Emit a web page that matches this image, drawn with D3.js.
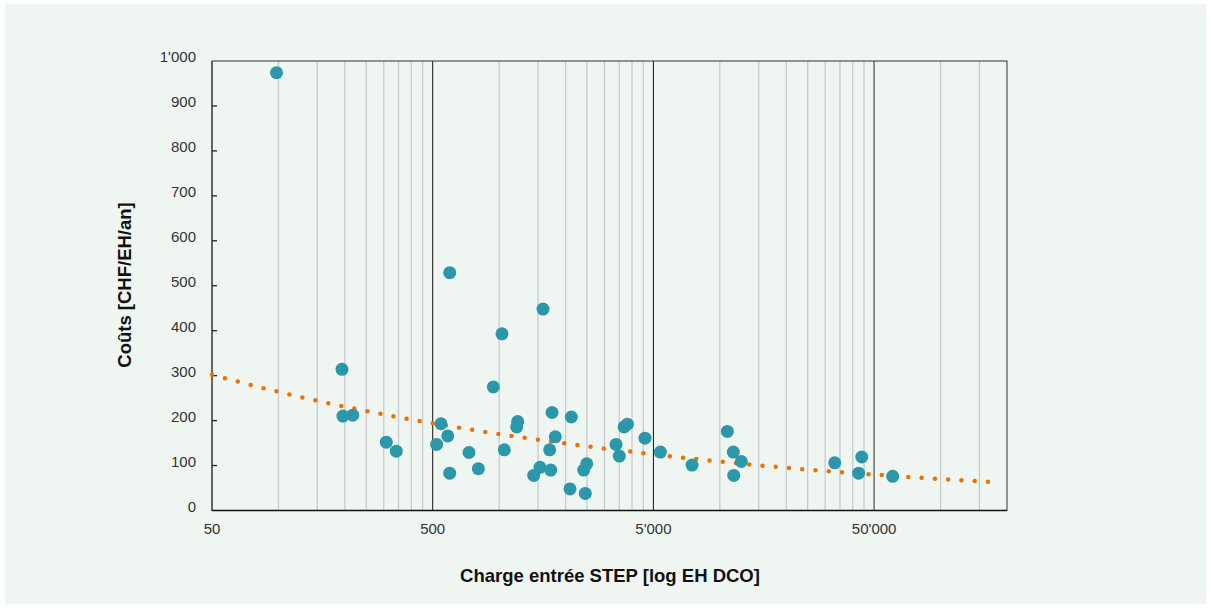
<!DOCTYPE html>
<html>
<head>
<meta charset="utf-8">
<script src="https://cdn.jsdelivr.net/npm/d3@7"></script>
<style>
  body { margin: 0; background: #fff; }
  svg { display: block; font-family: "Liberation Sans", Arial, sans-serif; }
</style>
</head>
<body>
<svg width="1211" height="608"></svg>
<script>
// charge (EH DCO) and cost (CHF/EH/an) per plant
var charge = [98, 194, 196, 217, 308, 342, 521, 545, 585, 597, 597, 730, 805, 941, 1030,
  1055, 1201, 1213, 1434, 1531, 1580, 1694, 1713, 1736, 1797, 2094, 2124, 2416, 2456, 2494,
  3385, 3503, 3681, 3811, 4580, 5376, 7481, 10815, 11509, 12511, 11560, 33150, 43950, 42550, 60700];
var couts = [974, 314, 210, 212, 152, 132, 147, 193, 166, 529, 83, 129, 93, 275, 393,
  135, 186, 198, 78, 96, 448, 135, 90, 218, 164, 48, 208, 90, 38, 104,
  147, 121, 186, 192, 161, 130, 101, 176, 130, 109, 78, 106, 119, 83, 76];

// trend line
var trendX = [50, 100, 200, 500, 1000, 2000, 5000, 10000, 20000, 50000, 100000, 175000];
var trendY = [302, 264, 231, 194, 170, 149, 125, 109, 95, 80, 70, 63];

var xTicks = [50, 500, 5000, 50000];
var yTicks = [0, 100, 200, 300, 400, 500, 600, 700, 800, 900, 1000];
var minorSteps = [2, 3, 4, 5, 6, 7, 8, 9];

var svg = d3.select("svg"),
    pLeft = 212, pRight = 1007, pTop = 61, pBottom = 510.5;

var fmt = function(v) { return d3.format(",")(v).replace(/,/g, "'"); };

var x = d3.scaleLog().domain([50, 200000]).range([pLeft, pRight]);
var y = d3.scaleLinear().domain([0, 1000]).range([pBottom, pTop]);

svg.append("rect")
    .attr("x", 5).attr("y", 4)
    .attr("width", 1201).attr("height", 600)
    .attr("fill", "#eff6f1");

// minor grid
var minor = [];
xTicks.forEach(function(d) {
  minorSteps.forEach(function(k) { if (d * k < 200000) minor.push(d * k); });
});

svg.append("g")
  .selectAll("line")
  .data(minor)
  .enter().append("line")
    .attr("x1", x).attr("x2", x)
    .attr("y1", pTop).attr("y2", pBottom)
    .attr("stroke", "#c4ccd3")
    .attr("stroke-width", 1.3);

// decade lines
svg.append("g")
  .selectAll("line")
  .data(xTicks.slice(1))
  .enter().append("line")
    .attr("x1", x).attr("x2", x)
    .attr("y1", pTop).attr("y2", pBottom)
    .attr("stroke", function(d) { return d == 50000 ? "#777" : "#111"; })
    .attr("stroke-width", function(d) { return d == 50000 ? 1.6 : 1; });

// frame
svg.append("rect")
    .attr("x", pLeft).attr("y", pTop)
    .attr("width", pRight - pLeft).attr("height", pBottom - pTop)
    .attr("fill", "none")
    .attr("stroke", "#333")
    .attr("stroke-width", 1);

svg.append("line")
    .attr("x1", pLeft).attr("x2", pLeft)
    .attr("y1", pTop).attr("y2", pBottom)
    .attr("stroke", "#555").attr("stroke-width", 1.5);

svg.append("line")
    .attr("x1", pLeft).attr("x2", pRight)
    .attr("y1", pBottom).attr("y2", pBottom)
    .attr("stroke", "#111").attr("stroke-width", 1.5);

// y ticks
var yAxis = svg.append("g");
yAxis.selectAll("line")
  .data(yTicks.filter(function(d) { return d > 0 && d < 1000; }))
  .enter().append("line")
    .attr("x1", pLeft).attr("x2", pLeft + 5)
    .attr("y1", y).attr("y2", y)
    .attr("stroke", "#222").attr("stroke-width", 1.3);

yAxis.selectAll("text")
  .data(yTicks)
  .enter().append("text")
    .attr("x", 196)
    .attr("y", function(d) { return y(d) - 4; })
    .attr("dy", "0.35em")
    .attr("text-anchor", "end")
    .attr("font-size", 15)
    .attr("fill", "#333")
    .text(fmt);

// x labels
svg.append("g")
  .selectAll("text")
  .data(xTicks)
  .enter().append("text")
    .attr("x", x)
    .attr("y", 534)
    .attr("text-anchor", "middle")
    .attr("font-size", 15)
    .attr("fill", "#333")
    .text(fmt);

// trend
svg.append("path")
    .datum(d3.zip(trendX, trendY))
    .attr("fill", "none")
    .attr("stroke", "#ee7100")
    .attr("stroke-width", 4.5)
    .attr("stroke-linecap", "round")
    .attr("stroke-dasharray", "0 13.3")
    .attr("d", d3.line()
      .x(function(d) { return x(d[0]); })
      .y(function(d) { return y(d[1]); })
      .curve(d3.curveMonotoneX));

// points
svg.append("g")
  .selectAll("circle")
  .data(d3.zip(charge, couts))
  .enter().append("circle")
    .attr("cx", function(d) { return x(d[0]); })
    .attr("cy", function(d) { return y(d[1]); })
    .attr("r", 6.5)
    .attr("fill", "#2a97ab");

// titles
svg.append("text")
    .attr("x", 610).attr("y", 582)
    .attr("text-anchor", "middle")
    .attr("font-size", 18.5)
    .attr("font-weight", "bold")
    .attr("fill", "#111")
    .text("Charge entrée STEP [log EH DCO]");

svg.append("text")
    .attr("transform", "translate(131,285)rotate(-90)")
    .attr("text-anchor", "middle")
    .attr("font-size", 18.5)
    .attr("font-weight", "bold")
    .attr("fill", "#111")
    .text("Coûts [CHF/EH/an]");
</script>
</body>
</html>
